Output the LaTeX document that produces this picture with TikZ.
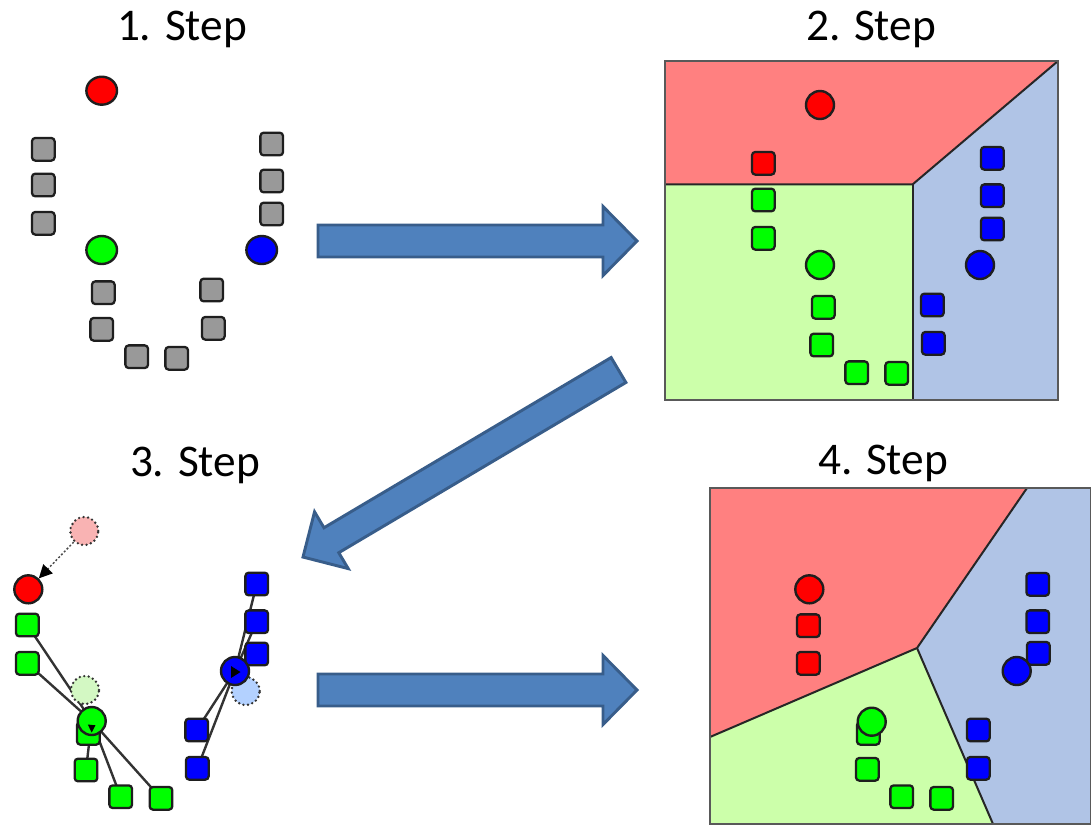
\documentclass[tikz,border=0pt]{standalone}
\usepackage{fontspec}
\setmainfont{Carlito}
\usetikzlibrary{shapes.geometric,arrows.meta,backgrounds}

\definecolor{regred}{HTML}{FF8080}
\definecolor{reggreen}{HTML}{CCFFAA}
\definecolor{regblue}{HTML}{B0C4E6}
\definecolor{arrowfill}{HTML}{4F81BD}
\definecolor{arrowedge}{HTML}{385D8A}
\definecolor{ptgray}{HTML}{999999}
\definecolor{fadered}{HTML}{F9B3B3}
\definecolor{fadegreen}{HTML}{D3F8C3}
\definecolor{fadeblue}{HTML}{B3D1FF}
\definecolor{edge}{HTML}{1E1E1E}

% block arrow: position, angle, length, shaft half width, head half width, head length
\newcommand\blockarrow[6]{%
  \filldraw[blockarr, shift={(#1)}, rotate=#2]
    (0,-#4) -- ({#3-#6},-#4) -- ({#3-#6},-#5) -- (#3,0) -- ({#3-#6},#5)
    -- ({#3-#6},#4) -- (0,#4) -- cycle;}

\begin{document}
\begin{tikzpicture}[x=0.75pt,y=-0.75pt,
  centroid/.style={circle, draw=edge, line width=1.8pt, minimum size=21pt, inner sep=0pt},
  wide/.style={ellipse, draw=edge, line width=1.8pt, minimum width=23pt, minimum height=21pt, inner sep=0pt},
  sample/.style={rectangle, rounded corners=2.5pt, draw=edge, line width=1.7pt, minimum size=17pt, inner sep=0pt},
  ghost/.style={circle, draw=black!80, line width=2pt, line cap=round, dash pattern=on 0pt off 3.4pt, minimum size=21pt, inner sep=0pt},
  region/.style={draw=black!85, line width=1.5pt, line join=round},
  frame/.style={draw=black!65, line width=1.4pt},
  link/.style={draw=black!80, line width=1.8pt},
  blockarr/.style={fill=arrowfill, draw=arrowedge, line width=2.2pt, line join=miter},
  title/.style={font=\fontsize{34}{40}\selectfont, anchor=base}]

\useasboundingbox (0,0) rectangle (1091,826);

% ---------- titles ----------
\node[title] (t1) at (182,40) {1. Step};
\node[title] (t2) at (871,40) {2. Step};
\node[title] (t3) at (195,476) {3. Step};
\node[title] (t4) at (883,474) {4. Step};

% ---------- step 1: initial centroids, unassigned samples ----------
\foreach \p [count=\i] in {(43.3,149.3),(43.3,185),(43.3,223.3),(271.7,144),(271.7,181),(271.7,214),
    (103.3,292.7),(101.7,329.3),(136.7,356.7),(176.7,358.3),(211.7,290),(213.3,328.3)}
  \node[sample, fill=ptgray] (a\i) at \p {};
\node[wide, fill=red]  (ra) at (101.7,90.7) {};
\node[wide, fill=green] (ga) at (101.7,250) {};
\node[wide, fill=blue] (ba) at (261.7,250) {};

% ---------- step 2: assignment ----------
\coordinate (p2nw) at (665,61);
\coordinate (p2ne) at (1058,61);
\coordinate (p2se) at (1058,400);
\coordinate (p2sw) at (665,400);
\coordinate (p2j)  at (912.7,184.3);
\fill[regred] (p2nw) -- (p2ne) -- (p2j) -- (p2nw |- p2j) -- cycle;
\fill[reggreen] (p2nw |- p2j) -- (p2j) -- (p2j |- p2sw) -- (p2sw) -- cycle;
\fill[regblue] (p2j) -- (p2ne) -- (p2se) -- (p2j |- p2se) -- cycle;
\draw[region] (p2nw |- p2j) -- (p2j) -- (p2ne);
\draw[region] (p2j) -- (p2j |- p2se);
\draw[frame] (p2nw) rectangle (p2se);

\node[sample, fill=red] (bq1) at (763.3,163.3) {};
\foreach \p [count=\i] in {(763.3,200),(763.3,238.3),(823.3,307.3),(821.7,345),(856.7,372.7),(896.7,373.3)}
  \node[sample, fill=green] (bg\i) at \p {};
\foreach \p [count=\i] in {(992.3,158.3),(992.3,195.7),(992.3,229),(932.3,305),(933.3,343.3)}
  \node[sample, fill=blue] (bb\i) at \p {};
\node[centroid, fill=red]  (rb) at (820,105) {};
\node[centroid, fill=green] (gb) at (820,265) {};
\node[centroid, fill=blue] (bbc) at (980,265) {};

% ---------- step 3: update of centroids ----------
\node[ghost, fill=fadered]   (fr) at (84.3,531) {};
\node[ghost, fill=fadegreen] (fg) at (85,690) {};
\node[ghost, fill=fadeblue]  (fb) at (245.7,691) {};

\foreach \p [count=\i] in {(27.3,625),(27.3,663.3),(88.3,733.3),(86,770),(120.7,796.7),(161,798.3)}
  \node[sample, fill=green] (cg\i) at \p {};
\foreach \p [count=\i] in {(256.7,584),(256.7,621.7),(256.7,654),(196.7,730),(197.3,768.3)}
  \node[sample, fill=blue] (cb\i) at \p {};
\node[centroid, fill=red]  (rc) at (28.3,589.3) {};
\node[centroid, fill=green] (gc) at (91.7,721) {};
\node[centroid, fill=blue] (bc) at (235,671) {};

\begin{pgfonlayer}{background}
  \foreach \i in {1,...,6} \draw[link] (gc.center) -- (cg\i.center);
  \foreach \i in {1,...,5} \draw[link] (bc.center) -- (cb\i.center);
\end{pgfonlayer}

\draw[black!70, line width=1.1pt, dash pattern=on 1.5pt off 1.5pt,
  -{Triangle[length=10pt,width=10pt,fill=black,line width=0pt]}] (fr) -- (rc);
\fill[black] (87.8,724.5) -- (95.5,725.3) -- (91.7,732.5) -- cycle;
\fill[black] (231,666) -- (240.5,672) -- (231,678) -- cycle;

% ---------- step 4: new assignment ----------
\coordinate (p4nw) at (710,488);
\coordinate (p4se) at (1091,824);
\coordinate (p4j)  at (917,648);
\coordinate (p4t)  at (1027,488);
\coordinate (p4l)  at (710,737);
\coordinate (p4b)  at (993,824);
\fill[regred] (p4nw) -- (p4t) -- (p4j) -- (p4l) -- cycle;
\fill[reggreen] (p4l) -- (p4j) -- (p4b) -- (p4nw |- p4se) -- cycle;
\fill[regblue] (p4t) -- (p4se |- p4nw) -- (p4se) -- (p4b) -- (p4j) -- cycle;
\draw[region] (p4t) -- (p4j) -- (p4l);
\draw[region] (p4j) -- (p4b);
\draw[frame] (p4nw) rectangle (p4se);

\foreach \p [count=\i] in {(808.3,625.7),(808.3,663.3)}
  \node[sample, fill=red] (dr\i) at \p {};
\foreach \p [count=\i] in {(1037.7,584.3),(1037.7,621.7),(1038.3,653.3),(978.3,730),(978.3,768.3)}
  \node[sample, fill=blue] (db\i) at \p {};
\foreach \p [count=\i] in {(868.3,733.3),(867.3,769.3),(901.7,796.7),(941.7,798.3)}
  \node[sample, fill=green] (dg\i) at \p {};
\node[centroid, fill=red]  (rd) at (809.3,589.3) {};
\node[centroid, fill=green] (gd) at (871.7,721.7) {};
\node[centroid, fill=blue] (bd) at (1016.7,671) {};

% ---------- process arrows ----------
\blockarrow{318,241}{0}{319}{16}{34.5}{34}
\blockarrow{618.5,370}{210.66}{366.8}{14.5}{33}{33}
\blockarrow{318,690}{0}{319}{16}{34.5}{34}

\end{tikzpicture}
\end{document}
